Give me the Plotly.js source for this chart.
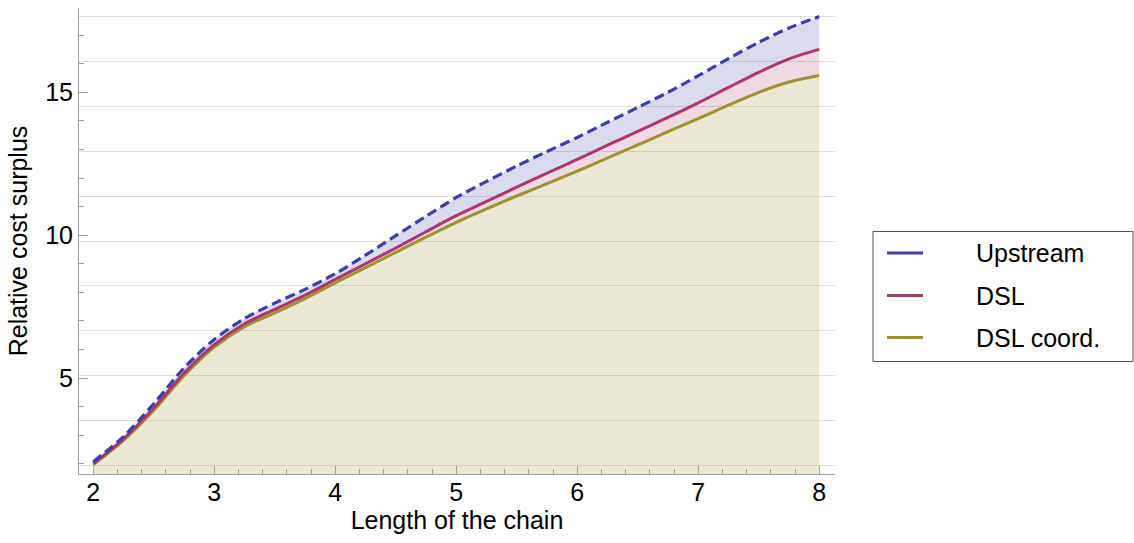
<!DOCTYPE html>
<html>
<head>
<meta charset="utf-8">
<script src="https://cdn.plot.ly/plotly-3.0.1.min.js"></script>
<style>html,body{margin:0;padding:0;background:#fff;}#chart{width:1134px;height:543px;}</style>
</head>
<body>
<div id="chart"></div>
<script>
const chainLength = [2, 2.25, 2.5, 2.75, 3, 3.25, 3.5, 3.75, 4, 4.25, 4.5, 4.75, 5, 5.25, 5.5, 5.75, 6, 6.25, 6.5, 6.75, 7, 7.25, 7.5, 7.75, 8];
const upstream = [2.07, 2.95, 4.1, 5.35, 6.35, 7.08, 7.62, 8.1, 8.65, 9.3, 9.98, 10.66, 11.32, 11.88, 12.42, 12.93, 13.42, 13.95, 14.47, 15.0, 15.58, 16.18, 16.75, 17.25, 17.65];
const dsl = [2.0, 2.87, 3.95, 5.17, 6.17, 6.9, 7.4, 7.9, 8.45, 9.0, 9.55, 10.12, 10.68, 11.18, 11.68, 12.17, 12.65, 13.15, 13.63, 14.12, 14.63, 15.17, 15.7, 16.17, 16.5];
const dslCoord = [1.97, 2.82, 3.87, 5.08, 6.08, 6.8, 7.28, 7.78, 8.33, 8.86, 9.4, 9.93, 10.45, 10.92, 11.37, 11.8, 12.24, 12.7, 13.16, 13.62, 14.08, 14.55, 15.0, 15.36, 15.59];
const seriesNames = ["Upstream", "DSL", "DSL coord."];
const xTickVals = [2, 3, 4, 5, 6, 7, 8];
const yTickVals = [5, 10, 15];

const FONT = "Liberation Sans, Arial, sans-serif";
const lineColors = ["rgb(62,62,168)", "rgb(168,56,110)", "rgb(160,145,50)"];
const fillColors = ["rgba(62,62,168,0.19)", "rgba(168,56,110,0.19)", "rgba(160,145,50,0.21)"];

const traces = [
  {
    x: chainLength, y: dslCoord, name: seriesNames[2], type: "scatter", mode: "lines",
    line: {color: lineColors[2], width: 3, shape: "spline", smoothing: 0.8},
    fill: "tozeroy", fillcolor: fillColors[2], showlegend: false
  },
  {
    x: chainLength, y: dsl, name: seriesNames[1], type: "scatter", mode: "lines",
    line: {color: lineColors[1], width: 3, shape: "spline", smoothing: 0.8},
    fill: "tonexty", fillcolor: fillColors[1], showlegend: false
  },
  {
    x: chainLength, y: upstream, name: seriesNames[0], type: "scatter", mode: "lines",
    line: {color: lineColors[0], width: 3.2, shape: "spline", smoothing: 0.8, dash: "10px,5px"},
    fill: "tonexty", fillcolor: fillColors[0], showlegend: false
  },
  {x: [], y: [], yaxis: "y2", showlegend: false, hoverinfo: "skip", type: "scatter"}
];

// hand-built legend box (paper coordinates)
const plotL = 79, plotR = 835, plotT = 8, plotB = 474;
const px2x = p => (p - plotL) / (plotR - plotL);
const px2y = p => (plotB - p) / (plotB - plotT);
const shapes = [
  {type: "rect", xref: "paper", yref: "paper", x0: px2x(873), x1: px2x(1133), y0: px2y(361.5), y1: px2y(231.5),
   line: {color: "#555", width: 1}, fillcolor: "#fff", layer: "above"}
];
const annotations = [];
const rowY = [253, 295.5, 337.5];
seriesNames.forEach((nm, i) => {
  shapes.push({type: "line", xref: "paper", yref: "paper", x0: px2x(887), x1: px2x(923), y0: px2y(rowY[i]), y1: px2y(rowY[i]),
    line: {color: lineColors[i], width: 3}, layer: "above"});
  annotations.push({xref: "paper", yref: "paper", x: px2x(974), y: px2y(rowY[i]), xanchor: "left", yanchor: "middle",
    text: nm, showarrow: false, font: {family: FONT, size: 25, color: "#000"}});
});

const yRange = [1.64, 17.95];
const layout = {
  width: 1134, height: 543,
  margin: {l: plotL, r: 1134 - plotR, t: plotT, b: 543 - plotB},
  paper_bgcolor: "#fff", plot_bgcolor: "#fff",
  font: {family: FONT, size: 25, color: "#000"},
  showlegend: false,
  shapes: shapes,
  annotations: annotations,
  xaxis: {
    range: [1.882, 8.13], showgrid: false, zeroline: false,
    showline: true, linecolor: "#a0a0a0", linewidth: 1,
    tickvals: xTickVals, ticks: "inside", ticklen: 8, tickcolor: "#a0a0a0",
    ticklabelstandoff: -4,
    tickfont: {family: FONT, size: 25, color: "#000"},
    minor: {dtick: 0.2, tick0: 2, ticks: "inside", ticklen: 5, tickcolor: "#a0a0a0", showgrid: false},
    title: {text: "Length of the chain", font: {family: FONT, size: 25, color: "#000"}, standoff: 4}
  },
  yaxis: {
    range: yRange, showgrid: false, zeroline: false,
    showline: true, linecolor: "#a0a0a0", linewidth: 1,
    tickvals: yTickVals, ticks: "inside", ticklen: 9, tickcolor: "#a0a0a0",
    tickfont: {family: FONT, size: 25, color: "#000"},
    minor: {dtick: 1, tick0: 0, ticks: "inside", ticklen: 5, tickcolor: "#a0a0a0", showgrid: false},
    title: {text: "Relative cost surplus", font: {family: FONT, size: 25, color: "#000"}, standoff: 10}
  },
  yaxis2: {
    overlaying: "y", range: yRange, tick0: 1.95, dtick: 1.569,
    showgrid: true, gridcolor: "#dedede", gridwidth: 1,
    showticklabels: false, ticks: "", zeroline: false, showline: false
  }
};

Plotly.newPlot("chart", traces, layout, {displayModeBar: false, staticPlot: true});
</script>
</body>
</html>
